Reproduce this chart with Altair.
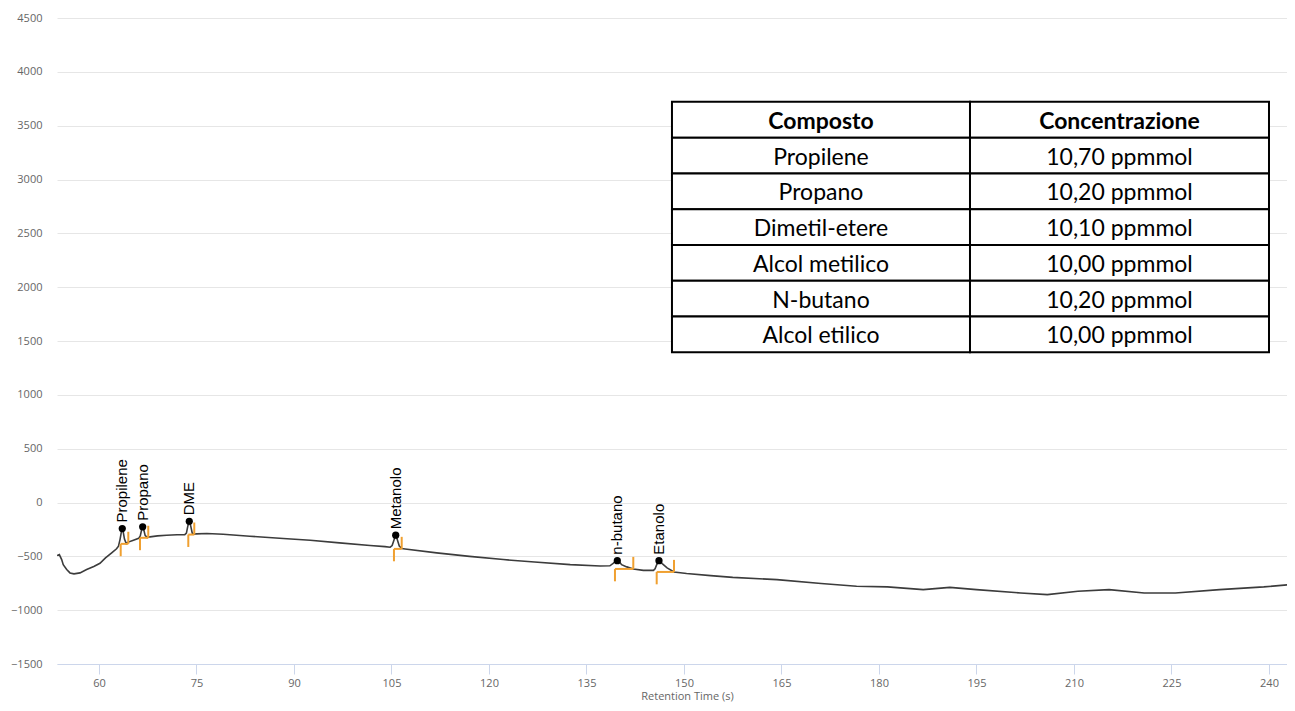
import altair as alt
import pandas as pd

# ---------------- data ----------------
trace_t = [53.55, 53.9, 54.26, 54.5, 55.03, 55.54, 56.15, 57.08, 58.1, 59.2, 60.15, 61.0, 62.0,
           62.7, 63.0, 63.25, 63.45, 63.58, 63.72, 63.92, 64.2, 64.5, 65.3, 66.1, 66.35, 66.55,
           66.72, 66.9, 67.1, 67.4, 67.85, 69.0, 70.4, 72.0, 73.2, 73.45, 73.68, 73.89, 74.1,
           74.35, 74.7, 75.0, 76.6, 79.1, 83.2, 88.35, 92.5, 97.0, 101.7, 104.0, 104.8, 105.1,
           105.4, 105.65, 105.9, 106.2, 106.6, 107.1, 111.95, 117.0, 122.2, 127.0, 132.5, 137.1,
           138.6, 139.1, 139.45, 139.74, 140.05, 140.4, 141.2, 142.2, 143.75, 145.3, 145.55,
           145.8, 146.15, 146.4, 146.65, 147.4, 148.46, 150.4, 154.1, 157.5, 164.3, 171.1,
           176.55, 181.3, 186.8, 190.9, 195.0, 201.8, 205.9, 210.6, 215.4, 220.8, 225.6, 232.4,
           239.2, 243.1]
trace_v = [-493, -484, -530, -577, -623, -654, -663, -654, -623, -595, -565, -515, -465,
           -430, -405, -340, -270, -242, -270, -340, -382, -368, -350, -333, -310, -255,
           -226, -255, -305, -326, -319, -310, -304, -300, -298, -285, -215, -174, -215,
           -285, -294, -291, -288, -295, -313, -335, -350, -375, -400, -410, -415, -400,
           -345, -304, -345, -405, -428, -432, -468, -500, -530, -553, -577, -590,
           -588, -565, -545, -540, -550, -577, -598, -617, -630, -630, -615,
           -577, -540, -552, -567, -607, -645, -660, -679, -695, -716, -753,
           -778, -784, -809, -788, -809, -840, -856, -825, -809, -840, -840, -809,
           -784, -763]

peak_names = ["Propilene", "Propano", "DME", "Metanolo", "n-butano", "Etanolo"]
peak_t = [63.58, 66.72, 73.89, 105.65, 139.74, 146.15]
peak_v = [-242, -226, -174, -304, -540, -540]
int_start = [63.34, 66.31, 73.74, 105.38, 139.38, 145.8]
int_end = [64.51, 67.58, 74.66, 106.57, 142.2, 148.46]
int_base = [-384, -328, -298, -431, -617, -645]

table_header = ["Composto", "Concentrazione"]
compounds = ["Propilene", "Propano", "Dimetil-etere", "Alcol metilico", "N-butano", "Alcol etilico"]
concentrations = ["10,70 ppmmol", "10,20 ppmmol", "10,10 ppmmol", "10,00 ppmmol",
                  "10,20 ppmmol", "10,00 ppmmol"]

x_ticks = [60, 75, 90, 105, 120, 135, 150, 165, 180, 195, 210, 225, 240]
y_ticks = [-1500, -1000, -500, 0, 500, 1000, 1500, 2000, 2500, 3000, 3500, 4000, 4500]

# ---------------- layout / style constants ----------------
X_DOMAIN = [53.54, 242.77]
Y_DOMAIN = [-1500, 4500]
DROP = 115     # start marker length below baseline (signal units)
RISE = 112     # end marker length above baseline
TAB_X = [148.15, 194.0, 240.0]
TAB_TOP = 3721
ROW_H = 332.2
ORANGE = "#f0a030"
GREY = "#666666"

trace = pd.DataFrame({"t": trace_t, "v": trace_v})
peaks = pd.DataFrame({"t": peak_t, "v": peak_v, "name": peak_names})
marks = pd.DataFrame({"s": int_start, "e": int_end, "b": int_base})
marks["b_low"] = marks["b"] - DROP
marks["b_high"] = marks["b"] + RISE

rows = [table_header] + [list(r) for r in zip(compounds, concentrations)]
cells = []
for i, r in enumerate(rows):
    for j, txt in enumerate(r):
        cells.append(dict(x=TAB_X[j], x2=TAB_X[j + 1],
                          y=TAB_TOP - i * ROW_H, y2=TAB_TOP - (i + 1) * ROW_H,
                          xc=(TAB_X[j] + TAB_X[j + 1]) / 2,
                          yc=TAB_TOP - (i + 0.5) * ROW_H,
                          text=txt, header=(i == 0)))
cells = pd.DataFrame(cells)

x_axis = alt.Axis(values=x_ticks, title="Retention Time (s)", grid=False,
                  domainColor="#ccd6eb", tickColor="#ccd6eb", tickSize=10,
                  labelColor=GREY, labelFont="Open Sans", labelFontSize=11, labelPadding=3,
                  labelFlush=False,
                  titleColor=GREY, titleFont="Open Sans", titleFontSize=11,
                  titleFontWeight="normal", titleX=630, titleY=35,
                  titleAlign="center", titleBaseline="alphabetic")
y_axis = alt.Axis(values=y_ticks, format="d", title=None, grid=True, gridColor="#e6e6e6",
                  domain=False, ticks=False, labelColor=GREY, labelFont="Open Sans",
                  labelFontSize=11, labelPadding=15)
xs = alt.Scale(domain=X_DOMAIN, nice=False, zero=False)
ys = alt.Scale(domain=Y_DOMAIN, nice=False, zero=False)


def X(f):
    return alt.X(f, type="quantitative", scale=xs, axis=x_axis)


def Y(f):
    return alt.Y(f, type="quantitative", scale=ys, axis=y_axis)


line = alt.Chart(trace).mark_line(color="#3c3c3c", strokeWidth=1.6, clip=True).encode(
    x=X("t"), y=Y("v"))

start_rule = alt.Chart(marks).mark_rule(color=ORANGE, strokeWidth=2).encode(
    x=X("s"), y=Y("b"), y2="b_low")
base_rule = alt.Chart(marks).mark_rule(color=ORANGE, strokeWidth=2).encode(
    x=X("s"), x2="e", y=Y("b"))
end_rule = alt.Chart(marks).mark_rule(color=ORANGE, strokeWidth=2).encode(
    x=X("e"), y=Y("b"), y2="b_high")

dots = alt.Chart(peaks).mark_circle(color="black", size=52, opacity=1).encode(
    x=X("t"), y=Y("v"))
labels = alt.Chart(peaks).mark_text(angle=270, align="left", baseline="middle", dx=6,
                                    font="Liberation Sans", fontSize=15,
                                    color="black").encode(
    x=X("t"), y=Y("v"), text="name")

cell_rects = alt.Chart(cells).mark_rect(fill="white", stroke="black", strokeWidth=2).encode(
    x=X("x"), x2="x2", y=Y("y"), y2="y2")
cell_text = alt.Chart(cells).mark_text(font="Lato", fontSize=23, color="black", dy=2,
                                       baseline="middle", align="center").encode(
    x=X("xc"), y=Y("yc"), text="text").transform_filter("!datum.header")
head_text = alt.Chart(cells).mark_text(font="Lato", fontSize=23, fontWeight="bold", dy=2,
                                       color="black", baseline="middle",
                                       align="center").encode(
    x=X("xc"), y=Y("yc"), text="text").transform_filter("datum.header")

chart = alt.layer(line, start_rule, base_rule, end_rule, dots, labels,
                  cell_rects, cell_text, head_text).properties(
    width=1230, height=646,
    autosize=alt.AutoSizeParams(type="none"),
    padding={"left": 49, "top": 10, "right": 0, "bottom": 39},
).configure_view(stroke=None)

chart.save("out.html", embed_options={"renderer": "svg", "actions": False})
